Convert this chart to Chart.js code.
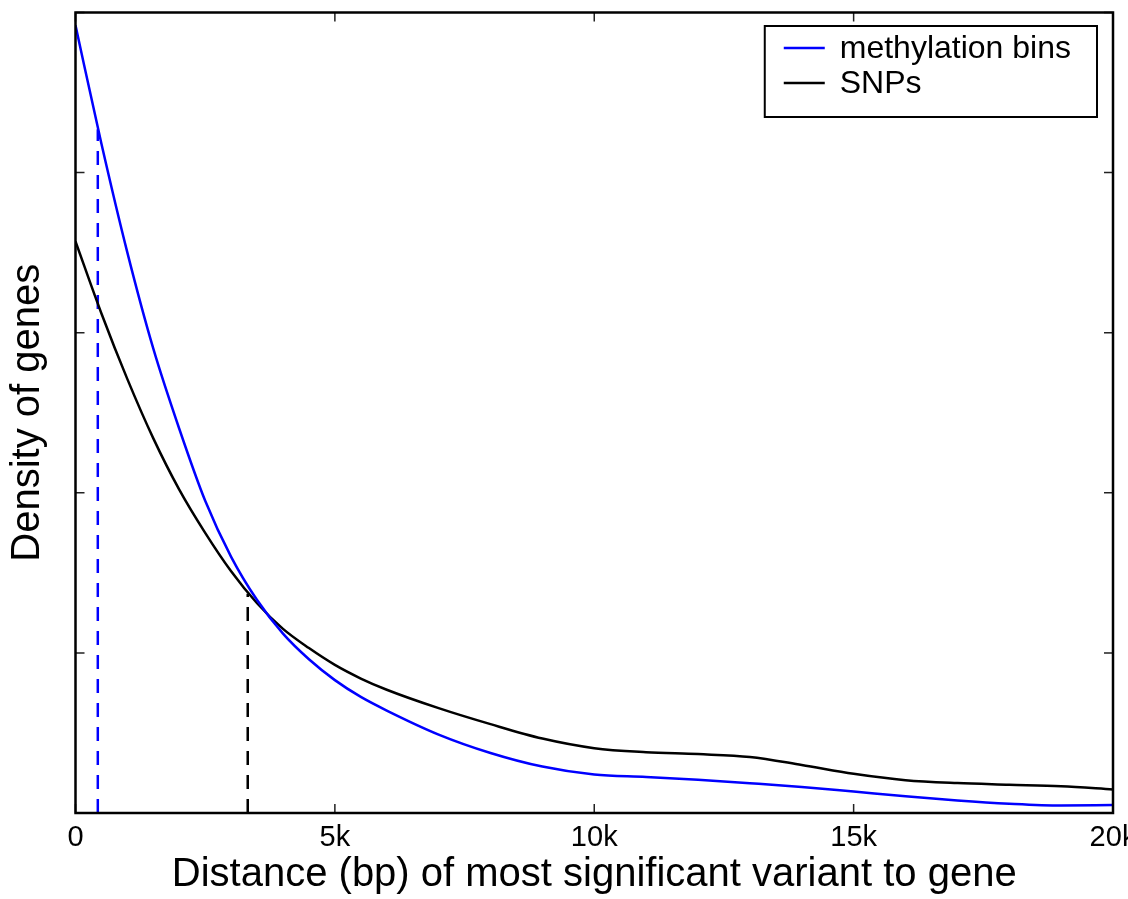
<!DOCTYPE html>
<html>
<head>
<meta charset="utf-8">
<script src="https://cdn.jsdelivr.net/npm/chart.js@4"></script>
<style>
  body { margin: 0; background: #fff; }
  canvas { display: block; }
</style>
</head>
<body>
<canvas id="density-chart" width="1128" height="899"></canvas>
<script>
// distance in bp
const distances = [0, 500, 1000, 1500, 2000, 2500, 3000, 3500, 4000, 4500, 5000, 5500, 6000,
    7000, 8000, 9000, 10000, 11000, 12000, 13000, 14000, 15000, 16000, 17000, 18000, 19000, 20000];

const methylationBins = [4.92, 4.18, 3.50, 2.90, 2.40, 1.95, 1.60, 1.33, 1.12, 0.96, 0.83, 0.725, 0.64,
    0.49, 0.375, 0.29, 0.24, 0.225, 0.207, 0.186, 0.163, 0.134, 0.104, 0.078, 0.058, 0.047, 0.05];

const snps = [3.57, 3.12, 2.71, 2.34, 2.02, 1.75, 1.51, 1.31, 1.15, 1.03, 0.925, 0.84, 0.77,
    0.655, 0.555, 0.465, 0.405, 0.38, 0.368, 0.35, 0.30, 0.245, 0.205, 0.187, 0.177, 0.167, 0.147];

// dashed markers: [methylation, SNPs]
const markerX = [430, 3320];
const markerY = [4.27, 1.37];

const xTicks = [0, 5000, 10000, 15000, 20000];
const xTickLabels = ['0', '5k', '10k', '15k', '20k'];
const yTicks = [0, 1, 2, 3, 4, 5];

const toPoints = (ys) => distances.map((d, i) => ({ x: d, y: ys[i] }));

// frame + inward ticks on all four sides
const framePlugin = {
    id: 'frame',
    afterDraw(chart) {
        const { ctx, chartArea: a, scales } = chart;
        const len = 9;
        ctx.save();
        ctx.strokeStyle = '#222';
        ctx.lineWidth = 1.5;
        ctx.beginPath();
        for (const v of xTicks) {
            const px = scales.x.getPixelForValue(v);
            ctx.moveTo(px, a.bottom); ctx.lineTo(px, a.bottom - len);
            ctx.moveTo(px, a.top); ctx.lineTo(px, a.top + len);
        }
        for (const v of yTicks) {
            const py = scales.y.getPixelForValue(v);
            ctx.moveTo(a.left, py); ctx.lineTo(a.left + len, py);
            ctx.moveTo(a.right, py); ctx.lineTo(a.right - len, py);
        }
        ctx.stroke();
        ctx.strokeStyle = '#000';
        ctx.lineWidth = 2.5;
        ctx.strokeRect(a.left, a.top, a.right - a.left, a.bottom - a.top);
        ctx.restore();
    }
};

// legend box inside the upper right corner
const legendPlugin = {
    id: 'boxLegend',
    afterDraw(chart) {
        const { ctx, chartArea: a } = chart;
        const items = chart.data.datasets.filter(d => d.inLegend);
        ctx.save();
        ctx.font = '32px "Liberation Sans", Arial, sans-serif';
        const textW = Math.max(...items.map(d => ctx.measureText(d.label).width));
        const w = 19 + 41 + 15 + textW + 26;
        const h = 91;
        const x0 = a.right - 16 - w;
        const y0 = a.top + 13.5;
        ctx.fillStyle = '#fff';
        ctx.fillRect(x0, y0, w, h);
        ctx.strokeStyle = '#000';
        ctx.lineWidth = 2;
        ctx.strokeRect(x0, y0, w, h);
        ctx.textBaseline = 'middle';
        items.forEach((d, i) => {
            const yy = y0 + 22 + i * 35;
            ctx.strokeStyle = d.borderColor;
            ctx.lineWidth = 2.5;
            ctx.beginPath();
            ctx.moveTo(x0 + 19, yy);
            ctx.lineTo(x0 + 60, yy);
            ctx.stroke();
            ctx.fillStyle = '#000';
            ctx.fillText(d.label, x0 + 75, yy + 1);
        });
        ctx.restore();
    }
};

const ctx = document.getElementById('density-chart').getContext('2d');
new Chart(ctx, {
    type: 'line',
    data: {
        datasets: [{
            label: 'methylation bins',
            inLegend: true,
            data: toPoints(methylationBins),
            borderColor: '#0000ff',
            borderWidth: 2.5,
            pointRadius: 0,
            cubicInterpolationMode: 'monotone',
        }, {
            label: 'SNPs',
            inLegend: true,
            data: toPoints(snps),
            borderColor: '#000000',
            borderWidth: 2.5,
            pointRadius: 0,
            cubicInterpolationMode: 'monotone',
        }, {
            label: 'methylation marker',
            data: [{ x: markerX[0], y: 0 }, { x: markerX[0], y: markerY[0] }],
            borderColor: '#0000ff',
            borderWidth: 2.5,
            borderDash: [14, 10],
            pointRadius: 0,
        }, {
            label: 'SNP marker',
            data: [{ x: markerX[1], y: 0 }, { x: markerX[1], y: markerY[1] }],
            borderColor: '#000000',
            borderWidth: 2.5,
            borderDash: [14, 10],
            pointRadius: 0,
        }]
    },
    options: {
        responsive: false,
        animation: false,
        layout: {
            padding: { top: 12.5, left: 0, right: 0, bottom: 0 }
        },
        plugins: {
            legend: { display: false },
            tooltip: { enabled: false },
        },
        scales: {
            x: {
                type: 'linear',
                min: 0,
                max: 20000,
                afterBuildTicks: (scale) => {
                    scale.ticks = xTicks.map(v => ({ value: v }));
                },
                afterFit: (scale) => {
                    scale.height = 86;
                    scale.paddingLeft = 0;
                    scale.paddingRight = 15;
                },
                grid: { display: false, drawTicks: false },
                border: { display: false },
                ticks: {
                    color: '#000',
                    padding: 8,
                    maxRotation: 0,
                    font: { family: '"Liberation Sans", Arial, sans-serif', size: 29 },
                    callback: (value) => xTickLabels[xTicks.indexOf(value)],
                },
                title: {
                    display: true,
                    text: 'Distance (bp) of most significant variant to gene',
                    color: '#000',
                    padding: 0,
                    font: { family: '"Liberation Sans", Arial, sans-serif', size: 40 },
                }
            },
            y: {
                min: 0,
                max: 5,
                afterBuildTicks: (scale) => {
                    scale.ticks = yTicks.map(v => ({ value: v }));
                },
                afterFit: (scale) => {
                    scale.width = 75.5;
                },
                grid: { display: false, drawTicks: false },
                border: { display: false },
                ticks: { display: false },
                title: {
                    display: true,
                    text: 'Density of genes',
                    color: '#000',
                    padding: { top: 4, bottom: 0 },
                    font: { family: '"Liberation Sans", Arial, sans-serif', size: 40 },
                }
            }
        }
    },
    plugins: [framePlugin, legendPlugin]
});
</script>
</body>
</html>
